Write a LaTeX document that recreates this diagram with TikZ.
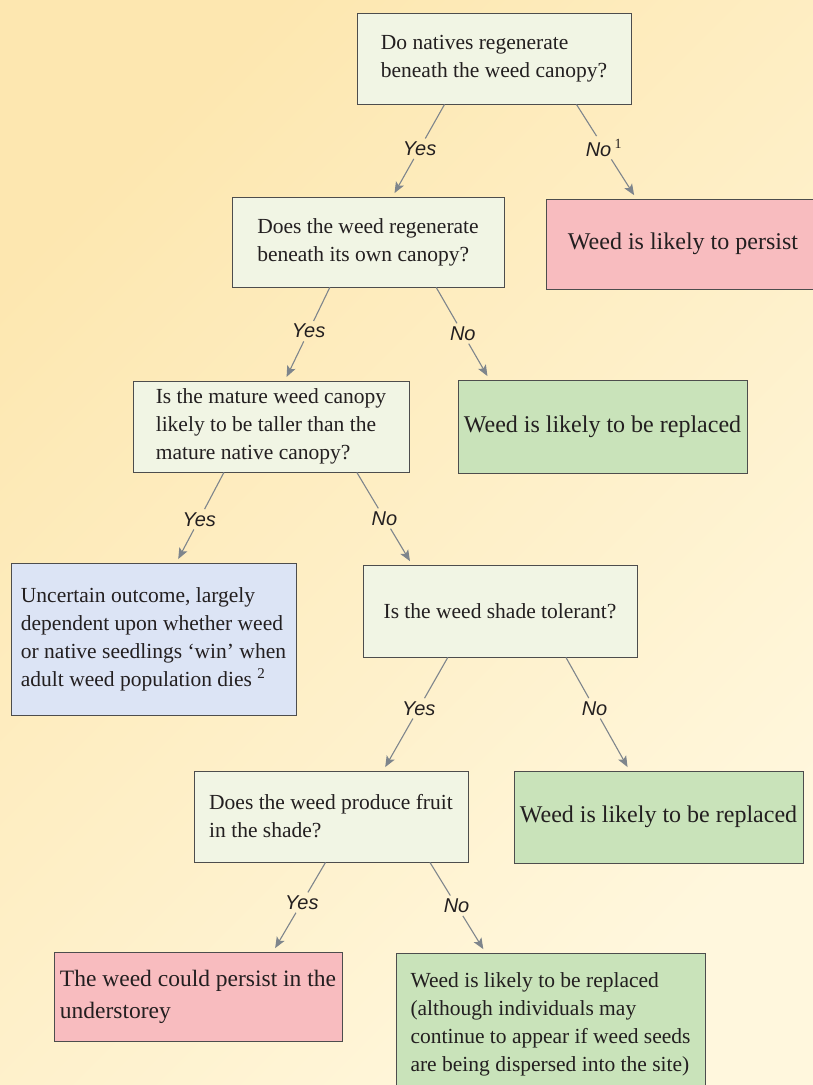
\documentclass[tikz,border=0pt]{standalone}
\usepackage{fontspec}
\setmainfont{Liberation Serif}
\setsansfont{Liberation Sans}
\usetikzlibrary{arrows.meta, calc}
\definecolor{ink}{HTML}{231F20}
\definecolor{boxline}{HTML}{4D4D4D}
\definecolor{linkgray}{HTML}{7E858C}
\definecolor{qfill}{HTML}{F1F5E4}
\definecolor{pinkfill}{HTML}{F8BCBF}
\definecolor{greenfill}{HTML}{C9E3BA}
\definecolor{bluefill}{HTML}{DCE4F5}
\definecolor{bgdark}{HTML}{FDE7B0}
\definecolor{bglight}{HTML}{FFF7DD}

\begin{document}
\begin{tikzpicture}[
  x=1pt, y=-1pt,
  box/.style={rectangle, draw=boxline, line width=0.9pt, align=left,
    text=ink, inner sep=0pt},
  question/.style={box, fill=qfill, font=\fontsize{21.5}{28}\selectfont},
  outcome/.style={box, font=\fontsize{24}{32}\selectfont},
  note/.style={box, font=\fontsize{21.5}{28}\selectfont},
  answer/.style={font=\sffamily\itshape\fontsize{20}{20}\selectfont,
    text=ink, inner sep=3pt},
  link/.style={draw=linkgray, line width=1.1pt},
  arrow/.style={link, -{Stealth[length=11pt, width=9pt, inset=2.5pt]},
    shorten >=4pt}
]
  \useasboundingbox (0,0) rectangle (813,1085);
  \clip (0,0) rectangle (813,1085);
  \shade[top color=bgdark, bottom color=bglight, shading angle=45]
    (0,0) rectangle (813,1085);

  % questions and outcomes
  \node[question, minimum width=274pt, minimum height=91pt] (natives)
    at (494,58.5) {Do natives regenerate\\beneath the weed canopy?};
  \node[question, minimum width=272pt, minimum height=90pt] (ownregen)
    at (368,242) {Does the weed regenerate\\beneath its own canopy?};
  \node[outcome, fill=pinkfill, minimum width=274pt, minimum height=90pt]
    (persist) at (683,244) {Weed is likely to persist};
  \node[question, minimum width=276pt, minimum height=91pt] (taller)
    at (271,426.5) {Is the mature weed canopy\\likely to be taller than the\\mature native canopy?};
  \node[outcome, fill=greenfill, minimum width=289pt, minimum height=93pt]
    (replacedA) at (602.5,426.5) {Weed is likely to be replaced};
  \node[note, fill=bluefill, minimum width=285pt, minimum height=152pt]
    (uncertain) at (153.5,639) {Uncertain outcome, largely\\dependent upon whether weed\\or native seedlings `win' when\\adult weed population dies \textsuperscript{2}};
  \node[question, minimum width=274pt, minimum height=92pt] (tolerant)
    at (500,611) {Is the weed shade tolerant?};
  \node[question, minimum width=274pt, minimum height=91pt] (fruit)
    at (331,816.5) {Does the weed produce fruit\\in the shade?};
  \node[outcome, fill=greenfill, minimum width=289pt, minimum height=92pt]
    (replacedB) at (658.5,817) {Weed is likely to be replaced};
  \node[outcome, fill=pinkfill, minimum width=288pt, minimum height=89pt,
    font=\fontsize{23.5}{32}\selectfont]
    (understorey) at (198,996.5) {The weed could persist in the\\understorey};
  \node[note, fill=greenfill, minimum width=309pt, minimum height=142pt]
    (replacedC) at (550.5,1024) {Weed is likely to be replaced\\(although individuals may\\continue to appear if weed seeds\\are being dispersed into the site)};

  % natives -> ownregen / persist
  \coordinate (s1) at ($(natives.south west)!0.32!(natives.south east)$);
  \coordinate (e1) at ($(ownregen.north west)!0.59!(ownregen.north east)$);
  \node[answer] (yes1) at ($(s1)!0.48!(e1)$) {Yes};
  \draw[link] (s1) -- (yes1);
  \draw[arrow] (yes1) -- (e1);
  \coordinate (s2) at ($(natives.south west)!0.80!(natives.south east)$);
  \coordinate (e2) at ($(persist.north west)!0.33!(persist.north east)$);
  \node[answer] (no1) at ($(s2)!0.46!(e2)$) {No\,\textsuperscript{\rmfamily\upshape 1}};
  \draw[link] (s2) -- (no1);
  \draw[arrow] (no1) -- (e2);

  % ownregen -> taller / replacedA
  \coordinate (s3) at ($(ownregen.south west)!0.36!(ownregen.south east)$);
  \coordinate (e3) at ($(taller.north west)!0.55!(taller.north east)$);
  \node[answer] (yes2) at ($(s3)!0.47!(e3)$) {Yes};
  \draw[link] (s3) -- (yes2);
  \draw[arrow] (yes2) -- (e3);
  \coordinate (s4) at ($(ownregen.south west)!0.75!(ownregen.south east)$);
  \coordinate (e4) at ($(replacedA.north west)!0.11!(replacedA.north east)$);
  \node[answer] (no2) at ($(s4)!0.5!(e4)$) {No};
  \draw[link] (s4) -- (no2);
  \draw[arrow] (no2) -- (e4);

  % taller -> uncertain / tolerant
  \coordinate (s5) at ($(taller.south west)!0.33!(taller.south east)$);
  \coordinate (e5) at ($(uncertain.north west)!0.58!(uncertain.north east)$);
  \node[answer] (yes3) at ($(s5)!0.52!(e5)$) {Yes};
  \draw[link] (s5) -- (yes3);
  \draw[arrow] (yes3) -- (e5);
  \coordinate (s6) at ($(taller.south west)!0.81!(taller.south east)$);
  \coordinate (e6) at ($(tolerant.north west)!0.18!(tolerant.north east)$);
  \node[answer] (no3) at ($(s6)!0.5!(e6)$) {No};
  \draw[link] (s6) -- (no3);
  \draw[arrow] (no3) -- (e6);

  % tolerant -> fruit / replacedB
  \coordinate (s7) at ($(tolerant.south west)!0.31!(tolerant.south east)$);
  \coordinate (e7) at ($(fruit.north west)!0.69!(fruit.north east)$);
  \node[answer] (yes4) at ($(s7)!0.45!(e7)$) {Yes};
  \draw[link] (s7) -- (yes4);
  \draw[arrow] (yes4) -- (e7);
  \coordinate (s8) at ($(tolerant.south west)!0.74!(tolerant.south east)$);
  \coordinate (e8) at ($(replacedB.north west)!0.40!(replacedB.north east)$);
  \node[answer] (no4) at ($(s8)!0.45!(e8)$) {No};
  \draw[link] (s8) -- (no4);
  \draw[arrow] (no4) -- (e8);

  % fruit -> understorey / replacedC
  \coordinate (s9) at ($(fruit.south west)!0.48!(fruit.south east)$);
  \coordinate (e9) at ($(understorey.north west)!0.76!(understorey.north east)$);
  \node[answer] (yes5) at ($(s9)!0.45!(e9)$) {Yes};
  \draw[link] (s9) -- (yes5);
  \draw[arrow] (yes5) -- (e9);
  \coordinate (s10) at ($(fruit.south west)!0.86!(fruit.south east)$);
  \coordinate (e10) at ($(replacedC.north west)!0.29!(replacedC.north east)$);
  \node[answer] (no5) at ($(s10)!0.48!(e10)$) {No};
  \draw[link] (s10) -- (no5);
  \draw[arrow] (no5) -- (e10);
\end{tikzpicture}
\end{document}
